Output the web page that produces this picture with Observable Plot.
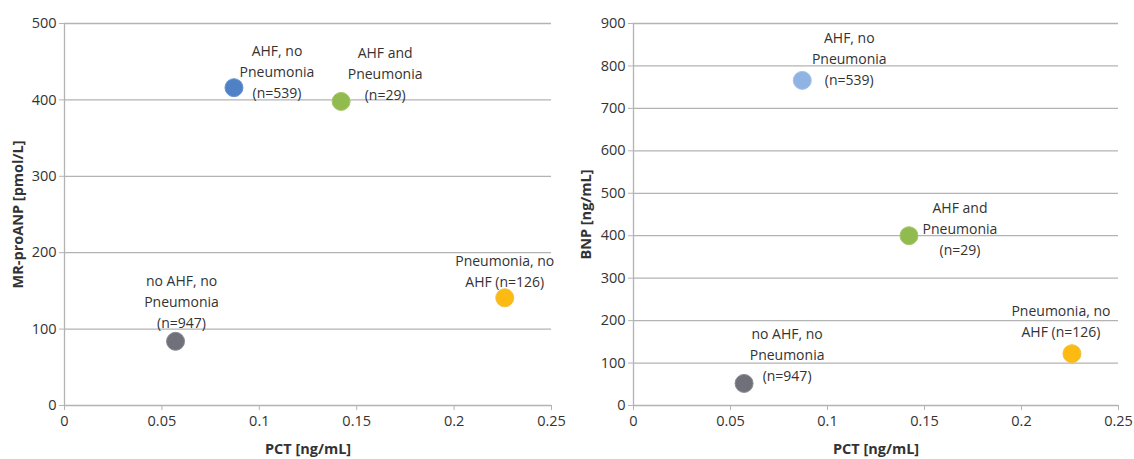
<!DOCTYPE html>
<html>
<head>
<meta charset="utf-8">
<script src="https://cdn.jsdelivr.net/npm/d3@7"></script>
<script src="https://cdn.jsdelivr.net/npm/@observablehq/plot@0.6"></script>
<style>
  html, body { margin: 0; padding: 0; background: #fff; }
  #wrap { display: flex; flex-direction: row; width: 1134px; height: 459px; }
  svg { display: block; }
</style>
</head>
<body>
<div id="wrap"></div>
<script>
// ---- data ----
const groups = [
  "AHF, no\nPneumonia\n(n=539)",
  "AHF and\nPneumonia\n(n=29)",
  "no AHF, no\nPneumonia\n(n=947)",
  "Pneumonia, no\nAHF (n=126)"
];
const pct = [0.087, 0.142, 0.057, 0.226];
const mrproanp = [416, 398, 84, 141];
const bnp = [766, 400, 52, 122];
const xTicks = [0, 0.05, 0.1, 0.15, 0.2, 0.25];
const yTicksLeft = [0, 100, 200, 300, 400, 500];
const yTicksRight = [0, 100, 200, 300, 400, 500, 600, 700, 800, 900];
const xTitle = "PCT [ng/mL]";
const yTitleLeft = "MR-proANP [pmol/L]";
const yTitleRight = "BNP [ng/mL]";

// ---- styling ----
const colorsLeft = ["#4f81c6", "#92bb4f", "#6f7079", "#fdba12"];
const colorsRight = ["#8fb3e3", "#92bb4f", "#6f7079", "#fdba12"];
const strokesLeft = ["#6a95cf", "#a5c66c", "#8a8b93", "#f0c040"];
const strokesRight = ["#a3c1e8", "#a5c66c", "#8a8b93", "#f0c040"];
const offsetsLeft = [[43, -17], [44, -29], [6, -41], [0, -28]];
const offsetsRight = [[47, -23], [51, -8], [43, -30], [-11, -34]];
const FONT = "'Open Sans', sans-serif";
const GRID = "#b3b3b3";
const TXT = "#333";

function panel({values, yTicks, yDomain, yTitle, width, marginLeft, marginRight, colors, strokes, offsets, titleDx}) {
  const rows = groups.map((g, i) => ({label: g, x: pct[i], y: values[i], fill: colors[i], stroke: strokes[i]}));
  const labelMarks = rows.map((r, i) => Plot.text([r], {
    x: "x", y: "y", text: "label",
    dx: offsets[i][0], dy: offsets[i][1],
    lineHeight: 1.5, fontSize: 14, fill: TXT, textAnchor: "middle"
  }));
  return Plot.plot({
    width, height: 459,
    marginLeft, marginRight, marginTop: 23, marginBottom: 54,
    style: {fontFamily: FONT, fontSize: "14px", color: TXT, background: "#fff"},
    x: {domain: [0, 0.25], ticks: xTicks},
    y: {domain: yDomain, ticks: yTicks},
    marks: [
      Plot.gridY(yTicks.filter(d => d > 0), {stroke: GRID, strokeOpacity: 1, strokeWidth: 1.3}),
      Plot.ruleY([0], {stroke: GRID, strokeWidth: 1.3}),
      Plot.ruleX([0], {stroke: GRID, strokeWidth: 1.3}),
      Plot.axisX(xTicks, {tickSize: 5, tickPadding: 5, stroke: GRID, fill: TXT, fontSize: 14.5, tickFormat: d => String(d), label: null}),
      Plot.axisY(yTicks, {tickSize: 5, tickPadding: 3, stroke: GRID, fill: TXT, fontSize: 14.5, label: null}),
      Plot.dot(rows, {x: "x", y: "y", r: 9, fill: "fill", stroke: "stroke", strokeWidth: 1}),
      ...labelMarks,
      Plot.text([xTitle], {frameAnchor: "bottom", dy: 44, lineAnchor: "middle", fontWeight: "bold", fontSize: 14.5, fill: TXT}),
      Plot.text([yTitle], {frameAnchor: "left", dx: titleDx, rotate: -90, textAnchor: "middle", lineAnchor: "middle", fontWeight: "bold", fontSize: 14.5, fill: TXT})
    ],
    color: {type: "identity"}
  });
}

const wrap = document.getElementById("wrap");
wrap.appendChild(panel({
  values: mrproanp, yTicks: yTicksLeft, yDomain: [0, 500], yTitle: yTitleLeft,
  width: 570, marginLeft: 64, marginRight: 19,
  colors: colorsLeft, strokes: strokesLeft, offsets: offsetsLeft, titleDx: -46
}));
wrap.appendChild(panel({
  values: bnp, yTicks: yTicksRight, yDomain: [0, 900], yTitle: yTitleRight,
  width: 564, marginLeft: 63, marginRight: 16,
  colors: colorsRight, strokes: strokesRight, offsets: offsetsRight, titleDx: -47
}));
</script>
</body>
</html>
